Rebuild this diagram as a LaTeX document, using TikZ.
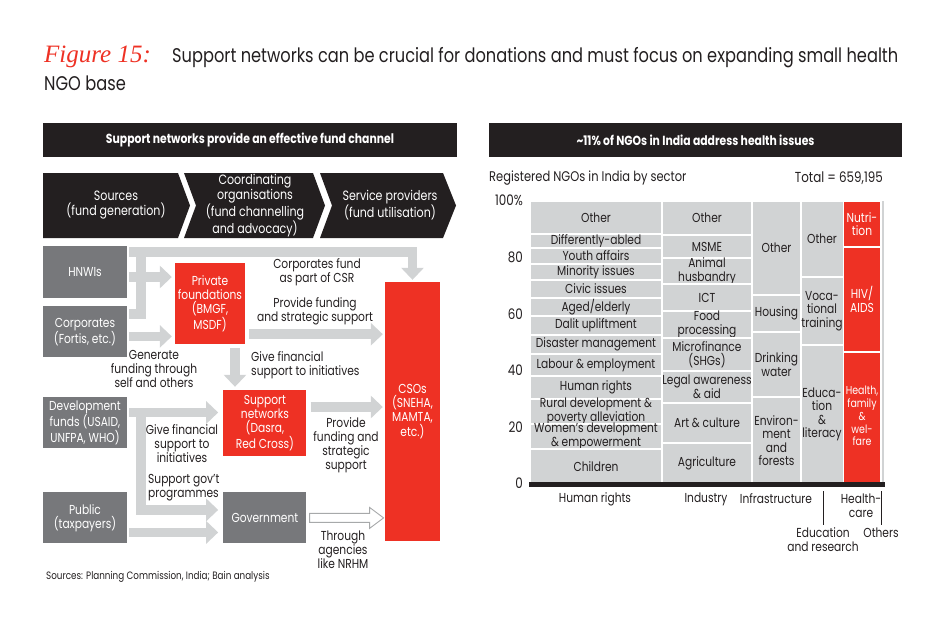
\documentclass[tikz,border=0pt]{standalone}
\usepackage{fontspec}
\setmainfont{Poppins}[FakeStretch=0.82]
\newfontfamily\figfont{Liberation Serif}
\usetikzlibrary{arrows.meta, positioning, calc}
\definecolor{bainred}{HTML}{EE3124}
\definecolor{boxgray}{HTML}{77787B}
\definecolor{cellgray}{HTML}{D1D3D4}
\definecolor{inkblack}{HTML}{231F20}
\newcommand{\boxfont}{\fontsize{13}{14}\selectfont}
\newcommand{\cellfont}{\fontsize{13}{13.5}\selectfont}
\newcommand{\smallfont}{\fontsize{11.5}{12.8}\selectfont}
\tikzstyle{headBox} = [rectangle, fill=inkblack, text=white, minimum height=34pt, font=\fontsize{13.2}{15}\selectfont\bfseries]
\tikzstyle{chevText} = [text=white, align=center, font=\fontsize{13.5}{14.6}\selectfont]
\tikzstyle{srcBox} = [rectangle, fill=boxgray, text=white, minimum width=84pt, minimum height=51pt, align=center, inner sep=1pt, font=\boxfont]
\tikzstyle{redBox} = [rectangle, fill=bainred, text=white, align=center, inner sep=1pt, font=\boxfont]
\tikzstyle{flowLabel} = [text=inkblack, align=center, font=\boxfont, inner sep=0pt]
\tikzstyle{fatArrow} = [draw=cellgray, line width=9.5pt, line join=miter, -{Triangle[width=22pt,length=12pt]}, shorten <=2pt, shorten >=3pt]
\tikzstyle{fatBar} = [draw=cellgray, line width=9.5pt, line join=miter, shorten <=2pt]
\tikzstyle{outArrow} = [draw=cellgray!80!black, fill=white, line width=0.9pt]
\tikzstyle{cell} = [draw=white, fill=cellgray, line width=1.2pt]
\tikzstyle{hcell} = [draw=white, fill=bainred, line width=1.2pt]
\tikzstyle{cellText} = [text=inkblack, align=center, font=\cellfont, inner sep=0pt]
\begin{document}
\begin{tikzpicture}[x=1pt, y=-1pt]
\useasboundingbox (0,0) rectangle (950,625);

% title
\node[anchor=base west, inner sep=0pt, text=bainred, font=\figfont\itshape\fontsize{25}{28}\selectfont] (fig) at (44,62) {Figure 15:};
\node[anchor=base west, inner sep=0pt, text=inkblack, font=\fontsize{19.8}{22}\selectfont] (title1) at (172,62) {Support networks can be crucial for donations and must focus on expanding small health};
\node[anchor=base west, inner sep=0pt, text=inkblack, font=\fontsize{19.8}{22}\selectfont] (title2) at (44,90) {NGO base};

% left panel
\node[headBox, minimum width=414pt] (lhead) at (250,140) {Support networks provide an effective fund channel};
\fill[inkblack] (43,173) -- (178,173) -- (190,205.5) -- (178,238) -- (43,238) -- cycle;
\fill[inkblack] (184,173) -- (313,173) -- (325,205.5) -- (313,238) -- (184,238) -- (196,205.5) -- cycle;
\fill[inkblack] (320,173) -- (443,173) -- (456,205.5) -- (443,238) -- (320,238) -- (332,205.5) -- cycle;
\node[chevText] (src) at (116,205) {Sources\\(fund generation)};
\node[chevText] (coord) at (255,206) {Coordinating\\organisations\\(fund channelling\\and advocacy)};
\node[chevText] (serv) at (390,205) {Service providers\\(fund utilisation)};

\node[srcBox, minimum height=52pt] (hnwi) at (85,272) {HNWIs};
\node[srcBox, below=8pt of hnwi] (corp) {Corporates\\(Fortis, etc.)};
\node[srcBox] (dev) at (85,422.5) {Development\\funds (USAID,\\UNFPA, WHO)};
\node[srcBox, below=44pt of dev] (pub) {Public\\(taxpayers)};
\node[redBox, minimum width=70pt, minimum height=81pt] (pf) at (210,303.5) {Private\\foundations\\(BMGF,\\MSDF)};
\node[srcBox, minimum width=83pt, right=96pt of pub] (gov) {Government};
\node[redBox, minimum width=83pt, minimum height=66pt, above=36pt of gov] (sn) {Support\\networks\\(Dasra,\\Red Cross)};
\node[redBox, minimum width=55pt, minimum height=259pt] (cso) at (412.5,411.5) {CSOs\\(SNEHA,\\MAMTA,\\etc.)};

% connectors
\coordinate (csrjoin) at ([xshift=14pt,yshift=-6pt]hnwi.north east);
\draw[fatBar] ([yshift=-8pt]corp.north east) -| ([yshift=2pt]csrjoin);
\draw[fatArrow, shorten >=2pt] ([yshift=-6pt]hnwi.north east) -| (cso.north);
\draw[fatArrow] ([yshift=-5pt]hnwi.east) -- ([yshift=-5pt]hnwi.east -| pf.west);
\draw[fatArrow] ([yshift=-4.5pt]corp.east) -- ([yshift=-4.5pt]corp.east -| pf.west);
\draw[fatArrow, shorten <=4pt, shorten >=2pt] ([yshift=10pt]pf.south east) -- ([yshift=10pt]pf.south east -| cso.west);
\draw[fatArrow, shorten <=4pt] ([xshift=25pt]pf.south) -- ([xshift=25pt]pf.south |- sn.north);
\draw[fatArrow, shorten >=5pt] ([yshift=10pt]dev.east) -- ([yshift=10pt]dev.east -| sn.west);
\coordinate (devjoin) at ([xshift=14pt,yshift=12pt]dev.east);
\draw[fatArrow, shorten <=0pt, shorten >=5pt] (devjoin) |- ([yshift=8pt]gov.west);
\draw[fatArrow, shorten >=5pt] ([yshift=-14.5pt]pub.east) -- ([yshift=-14.5pt]pub.east -| gov.west);
\draw[fatArrow, shorten <=4pt, shorten >=2pt] ([yshift=16pt]sn.east) -- ([yshift=16pt]sn.east -| cso.west);
\draw[outArrow] ([xshift=3pt,yshift=4.5pt]gov.east) -- ++(60,0) -- ++(0,-6) -- ++(14,10.5) -- ++(-14,10.5) -- ++(0,-6) -- ++(-60,0) -- cycle;

% connector labels
\node[flowLabel] (lcsr) at (317,272) {Corporates fund\\as part of CSR};
\node[flowLabel] (lpf) at (315,311) {Provide funding\\and strategic support};
\node[flowLabel] (lgen) at (154,369) {Generate\\funding through\\self and others};
\node[flowLabel, anchor=west, align=left] (lgive1) at (251,365.5) {Give financial\\support to initiatives};
\node[flowLabel] (lgive2) at (182,444) {Give financial\\support to\\initiatives};
\node[flowLabel, anchor=west, align=left] (lgovt) at (148,487.5) {Support gov’t\\programmes};
\node[flowLabel] (lsn) at (346,445) {Provide\\funding and\\strategic\\support};
\node[flowLabel] (lnrhm) at (343,550) {Through\\agencies\\like NRHM};
\node[anchor=west, inner sep=0pt, text=inkblack, font=\fontsize{10.7}{12}\selectfont] (srcs) at (46,577) {Sources: Planning Commission, India; Bain analysis};

% right panel
\node[headBox, minimum width=413pt] (rhead) at (695.5,140) {\textasciitilde 11\% of NGOs in India address health issues};
\node[anchor=west, inner sep=0pt, text=inkblack, font=\fontsize{14}{15}\selectfont] (rsub) at (489,178) {Registered NGOs in India by sector};
\node[anchor=east, inner sep=0pt, text=inkblack, font=\fontsize{14.5}{15}\selectfont] (total) at (883,178) {Total = 659,195};
\foreach \yv/\lab in {200/100\%, 257/80, 314/60, 370/40, 427/20, 483/0}
  \node[anchor=east, inner sep=0pt, text=inkblack, font=\fontsize{14.5}{15}\selectfont] at (523,\yv) {\lab};

% human rights
\foreach \ta/\tb/\txt in {201/234/Other, 234/248/Differently-abled, 248/264/Youth affairs, 264/280/Minority issues, 280/298/Civic issues, 298/316/{Aged/elderly}, 316/335/Dalit upliftment, 335/354/Disaster management, 354/376/Labour \& employment, 376/399/Human rights, 399/424/{Rural development \&\\poverty alleviation}, 424/449/{Women’s development\\\& empowerment}, 449/484/Children} {
  \draw[cell] (530,\ta) rectangle (662,\tb);
  \node[cellText] at (596,{(\ta+\tb)/2}) {\txt};
}
% industry
\foreach \ta/\tb/\txt in {201/235/Other, 235/258/MSME, 258/284/{Animal\\husbandry}, 284/311/ICT, 311/338/{Food\\processing}, 338/371/{Microfinance\\(SHGs)}, 371/403/{Legal awareness\\\& aid}, 403/443/Art \& culture, 443/484/Agriculture} {
  \draw[cell] (662,\ta) rectangle (752,\tb);
  \node[cellText] at (707,{(\ta+\tb)/2}) {\txt};
}
% infrastructure
\foreach \ta/\tb/\txt in {201/295/Other, 295/332/Housing, 332/397/{Drinking\\water}, 397/484/{Environ-\\ment\\and\\forests}} {
  \draw[cell] (752,\ta) rectangle (801,\tb);
  \node[cellText] at (776.5,{(\ta+\tb)/2}) {\txt};
}
% education
\foreach \ta/\tb/\txt in {201/277/Other, 277/345/{Voca-\\tional\\training}, 345/484/{Educa-\\tion\\\&\\literacy}} {
  \draw[cell] (801,\ta) rectangle (843.5,\tb);
  \node[cellText] at (822,{(\ta+\tb)/2}) {\txt};
}
% healthcare
\draw[hcell] (843.5,201) rectangle (881,247);
\node[cellText, text=white] at (862,224) {Nutri-\\tion};
\draw[hcell] (843.5,247) rectangle (881,352);
\node[cellText, text=white] at (862,299.5) {HIV/\\AIDS};
\draw[hcell] (843.5,352) rectangle (881,484);
\node[cellText, text=white, font=\smallfont] at (862,416) {Health,\\family\\\&\\wel-\\fare};
\fill[cellgray] (881.5,201) rectangle (884,484);
\draw[inkblack, line width=4.5pt] (529,484.5) -- (885,484.5);

% sector labels
\node[cellText] (shr) at (595,499) {Human rights};
\node[cellText] (sind) at (706,499) {Industry};
\node[cellText] (sinf) at (776,499) {Infrastructure};
\node[cellText] (shc) at (861,505.5) {Health-\\care};
\draw[inkblack, line width=0.9pt] (823,491) -- (823,525);
\draw[inkblack, line width=0.9pt] (881,491) -- (881,525);
\node[cellText] (sedu) at (823,539.5) {Education\\and research};
\node[cellText] (soth) at (881,533) {Others};
\end{tikzpicture}
\end{document}
